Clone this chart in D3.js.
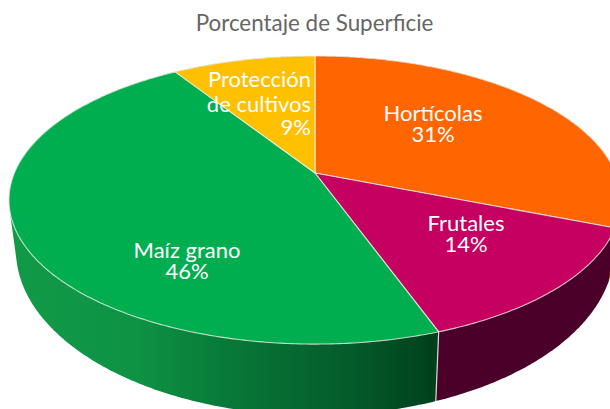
<!DOCTYPE html>
<html>
<head>
  <meta charset="utf-8">
  <script src="https://d3js.org/d3.v7.min.js"></script>
  <style>
    html, body { margin: 0; padding: 0; background: #fff; overflow: hidden; }
    svg { display: block; }
    text { font-family: Lato, "Open Sans", sans-serif; }
  </style>
</head>
<body>
  <div id="chart"></div>
  <script>
    var chartTitle = "Porcentaje de Superficie";
    // clockwise from 12 o'clock
    var categories = ["Hortícolas", "Frutales", "Maíz grano", "Protección de cultivos"];
    var sliceValues = [31, 13.5, 46.45, 9.05];
    var shownPercents = ["31%", "14%", "46%", "9%"];
    var topColors = ["#ff6600", "#c60061", "#00ae50", "#ffc000"];

    var width = 610, height = 409;

    var svg = d3.select("#chart").append("svg")
      .attr("width", width)
      .attr("height", height);

    // tilted disc with some perspective, the apex is not the middle of the ellipse
    var cx = 315, cy = 173, rx = 300.6, ry = 139, persp = 0.1876;
    var depth = 47, bottomShrink = 0.977;

    function project(a, r, low) {
      var u = Math.sin(a) * r, v = -Math.cos(a) * r;
      var s = 1 / (1 - persp * v);
      var k = low ? bottomShrink : 1;
      return [cx + rx * u * s * k, cy + ry * v * s + (low ? depth * s * s : 0)];
    }

    var pie = d3.pie().sort(null).value(function(d) { return d; });
    var arcs = pie(sliceValues);
    var line = d3.line();

    function rim(a0, a1, low) {
      var n = Math.max(2, Math.ceil((a1 - a0) / 0.01));
      return d3.range(n + 1).map(function(i) {
        return project(a0 + (a1 - a0) * i / n, 1, low);
      });
    }

    // side gradient for the big green wall
    var defs = svg.append("defs");
    var greenStops = [
      [0, "#119a48"], [0.3, "#0e9244"], [0.5, "#087a38"], [0.8, "#045a2a"], [1, "#003f1b"]
    ];
    var green = defs.append("linearGradient").attr("id", "sideGreen")
      .attr("gradientUnits", "userSpaceOnUse")
      .attr("x1", 10).attr("x2", 438).attr("y1", 0).attr("y2", 0);
    greenStops.forEach(function(s) {
      green.append("stop").attr("offset", s[0]).attr("stop-color", s[1]);
    });
    var sideFill = ["#7a3000", "#4a0028", "url(#sideGreen)", "#7a5c00"];

    // sides go first, the top faces cover whatever is behind.
    // hull of top and bottom rim gives the straight silhouette edges
    svg.append("g").selectAll("path")
      .data(arcs)
      .enter().append("path")
      .attr("d", function(d) {
        var pts = rim(d.startAngle, d.endAngle, false)
          .concat(rim(d.startAngle, d.endAngle, true));
        return line(d3.polygonHull(pts)) + "Z";
      })
      .attr("fill", function(d, i) { return sideFill[i]; });

    // seam between green and magenta on the side wall
    var seam = arcs[1].endAngle;
    svg.append("path")
      .attr("d", line([project(seam, 1, false), project(seam, 1, true)]))
      .attr("stroke", "#d8dcd8")
      .attr("stroke-width", 1.2)
      .attr("fill", "none");

    // top faces
    svg.append("g").selectAll("path")
      .data(arcs)
      .enter().append("path")
      .attr("d", function(d) {
        return line([[cx, cy]].concat(rim(d.startAngle, d.endAngle, false))) + "Z";
      })
      .attr("fill", function(d, i) { return topColors[i]; })
      .attr("stroke", "#eef0e8")
      .attr("stroke-opacity", 0.8)
      .attr("stroke-width", 1.1)
      .attr("stroke-linejoin", "round");

    svg.append("text")
      .attr("x", 314.5)
      .attr("y", 31)
      .attr("text-anchor", "middle")
      .attr("font-size", 22.4)
      .attr("fill", "#666")
      .text(chartTitle);

    // data labels were hand placed in the original
    var labelLayout = [
      { x: 433, y: 121, anchor: "middle", lines: [categories[0], shownPercents[0]], ys: [0, 21] },
      { x: 466, y: 231, anchor: "middle", lines: [categories[1], shownPercents[1]], ys: [0, 21] },
      { x: 187, y: 258, anchor: "middle", lines: [categories[2], shownPercents[2]], ys: [0, 21] },
      { x: 311, y: 87, anchor: "end", lines: ["Protección", "de cultivos", shownPercents[3]], ys: [0, 25, 48] }
    ];

    var labels = svg.append("g").selectAll("text")
      .data(labelLayout)
      .enter().append("text")
      .attr("text-anchor", function(d) { return d.anchor; })
      .attr("font-size", 22)
      .attr("fill", "#fff");

    labels.selectAll("tspan")
      .data(function(d) {
        return d.lines.map(function(t, i) { return { t: t, x: d.x, y: d.y + d.ys[i] }; });
      })
      .enter().append("tspan")
      .attr("x", function(d) { return d.x; })
      .attr("y", function(d) { return d.y; })
      .text(function(d) { return d.t; });
  </script>
</body>
</html>
